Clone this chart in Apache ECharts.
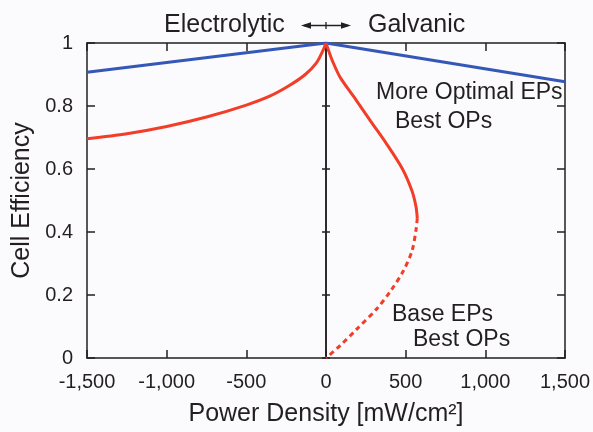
<!DOCTYPE html>
<html>
<head>
<meta charset="utf-8">
<script src="https://cdn.jsdelivr.net/npm/echarts@6/dist/echarts.min.js"></script>
<style>
  html, body { margin: 0; padding: 0; background: #fbfbfd; }
  #chart { width: 593px; height: 432px; }
</style>
</head>
<body>
<div id="chart"></div>
<script>
// tick labels
var xTickLabels = ['-1,500', '-1,000', '-500', '0', '500', '1,000', '1,500']
var yTickLabels = ['0', '0.2', '0.4', '0.6', '0.8', '1']

// More Optimal EPs, Best OPs  [power density, efficiency]
var optimalEPs = [[-1500, 0.907], [0, 1], [1500, 0.877]]

// Base EPs, Best OPs - electrolytic side
var baseElectrolytic = [
  [-1500, 0.696], [-1250, 0.712], [-1000, 0.735], [-750, 0.765], [-500, 0.803],
  [-350, 0.832], [-230, 0.865], [-130, 0.9], [-60, 0.937], [-20, 0.975], [0, 1]
]
// galvanic side, upper (solid) branch
var baseGalvanicUpper = [
  [0, 1], [15, 0.978], [43, 0.94], [90, 0.89], [185, 0.822], [280, 0.752],
  [380, 0.68], [480, 0.6], [540, 0.53], [565, 0.48], [573, 0.444]
]
// galvanic side, lower (dashed) branch
var baseGalvanicLower = [
  [573, 0.444], [566, 0.41], [540, 0.34], [485, 0.276], [410, 0.216],
  [322, 0.158], [190, 0.09], [90, 0.04], [0, 0]
]

var FONT = '"Liberation Sans", Arial, Helvetica, sans-serif'
var INK = '#231f20'
var BLUE = '#3557b7'
var RED = '#f23d29'

var chart = echarts.init(document.getElementById('chart'))

function xLabel(v) {
  return xTickLabels[Math.round((v + 1500) / 500)]
}
function yLabel(v) {
  return yTickLabels[Math.round(v / 0.2)]
}

var frameLine = { show: true, onZero: false, lineStyle: { color: INK, width: 1.5 } }

chart.setOption({
  backgroundColor: '#fbfbfd',
  animation: false,
  textStyle: { fontFamily: FONT, color: INK },
  grid: { left: 87, right: 27, top: 43, bottom: 66, containLabel: false },
  xAxis: [{
    type: 'value', position: 'bottom', min: -1500, max: 1500, interval: 500,
    axisLine: frameLine,
    axisTick: { inside: true, length: 8, lineStyle: { color: INK, width: 1.5 } },
    axisLabel: { formatter: xLabel, fontSize: 20, color: INK, margin: 14, fontFamily: FONT },
    splitLine: { show: false },
    name: 'Power Density [mW/cm²]', nameLocation: 'middle', nameGap: 44,
    nameTextStyle: { fontSize: 25, color: INK, fontFamily: FONT }
  }, {
    type: 'value', position: 'top', min: -1500, max: 1500, interval: 500,
    axisLine: frameLine,
    axisTick: { inside: true, length: 8, lineStyle: { color: INK, width: 1.5 } },
    axisLabel: { show: false },
    splitLine: { show: false }
  }],
  yAxis: [{
    type: 'value', position: 'left', min: 0, max: 1, interval: 0.2,
    axisLine: frameLine,
    axisTick: { inside: true, length: 8, lineStyle: { color: INK, width: 1.5 } },
    axisLabel: { formatter: yLabel, fontSize: 20, color: INK, margin: 14, fontFamily: FONT },
    splitLine: { show: false },
    name: 'Cell Efficiency', nameLocation: 'middle', nameGap: 50,
    nameTextStyle: { fontSize: 25, color: INK, fontFamily: FONT }
  }, {
    type: 'value', position: 'right', min: 0, max: 1, interval: 0.2,
    axisLine: frameLine,
    axisTick: { inside: true, length: 8, lineStyle: { color: INK, width: 1.5 } },
    axisLabel: { show: false },
    splitLine: { show: false }
  }, {
    // zero line, ticks to one side
    type: 'value', position: 'left', min: 0, max: 1, interval: 0.2,
    axisLine: { show: true, onZero: true, onZeroAxisIndex: 0, lineStyle: { color: INK, width: 1.5 } },
    axisTick: { inside: false, length: 4, lineStyle: { color: INK, width: 1.5 } },
    axisLabel: { show: false },
    splitLine: { show: false }
  }, {
    // zero line, ticks to the other side
    type: 'value', position: 'left', min: 0, max: 1, interval: 0.2,
    axisLine: { show: true, onZero: true, onZeroAxisIndex: 1, lineStyle: { color: INK, width: 1.5 } },
    axisTick: { inside: true, length: 4, lineStyle: { color: INK, width: 1.5 } },
    axisLabel: { show: false },
    splitLine: { show: false }
  }],
  graphic: [
    { type: 'text', left: 164, top: 13, style: { text: 'Electrolytic', font: '25px ' + FONT, fill: INK } },
    { type: 'text', left: 368, top: 13, style: { text: 'Galvanic', font: '25px ' + FONT, fill: INK } },
    { type: 'line', shape: { x1: 304, y1: 25.5, x2: 348, y2: 25.5 }, style: { stroke: INK, lineWidth: 1.3 } },
    { type: 'line', shape: { x1: 326, y1: 22, x2: 326, y2: 29 }, style: { stroke: INK, lineWidth: 1.3 } },
    { type: 'polygon', shape: { points: [[301, 25.5], [311, 22.3], [311, 28.7]] }, style: { fill: INK } },
    { type: 'polygon', shape: { points: [[351, 25.5], [341, 22.3], [341, 28.7]] }, style: { fill: INK } },
    { type: 'text', left: 376, top: 81, style: { text: 'More Optimal EPs', font: '23px ' + FONT, fill: INK } },
    { type: 'text', left: 395, top: 110, style: { text: 'Best OPs', font: '23px ' + FONT, fill: INK } },
    { type: 'text', left: 392, top: 303, style: { text: 'Base EPs', font: '23px ' + FONT, fill: INK } },
    { type: 'text', left: 413, top: 328, style: { text: 'Best OPs', font: '23px ' + FONT, fill: INK } }
  ],
  series: [{
    name: 'More Optimal EPs', type: 'line', data: optimalEPs,
    showSymbol: false, symbol: 'none', z: 3,
    lineStyle: { color: BLUE, width: 3 }
  }, {
    name: 'Base EPs electrolytic', type: 'line', data: baseElectrolytic,
    showSymbol: false, symbol: 'none', smooth: 0.3,
    lineStyle: { color: RED, width: 3 }
  }, {
    name: 'Base EPs galvanic', type: 'line', data: baseGalvanicUpper,
    showSymbol: false, symbol: 'none', smooth: 0.3,
    lineStyle: { color: RED, width: 3 }
  }, {
    name: 'Base EPs galvanic lower', type: 'line', data: baseGalvanicLower,
    showSymbol: false, symbol: 'none', smooth: 0.3,
    lineStyle: { color: RED, width: 3, type: [5, 4] }
  }]
})
</script>
</body>
</html>
